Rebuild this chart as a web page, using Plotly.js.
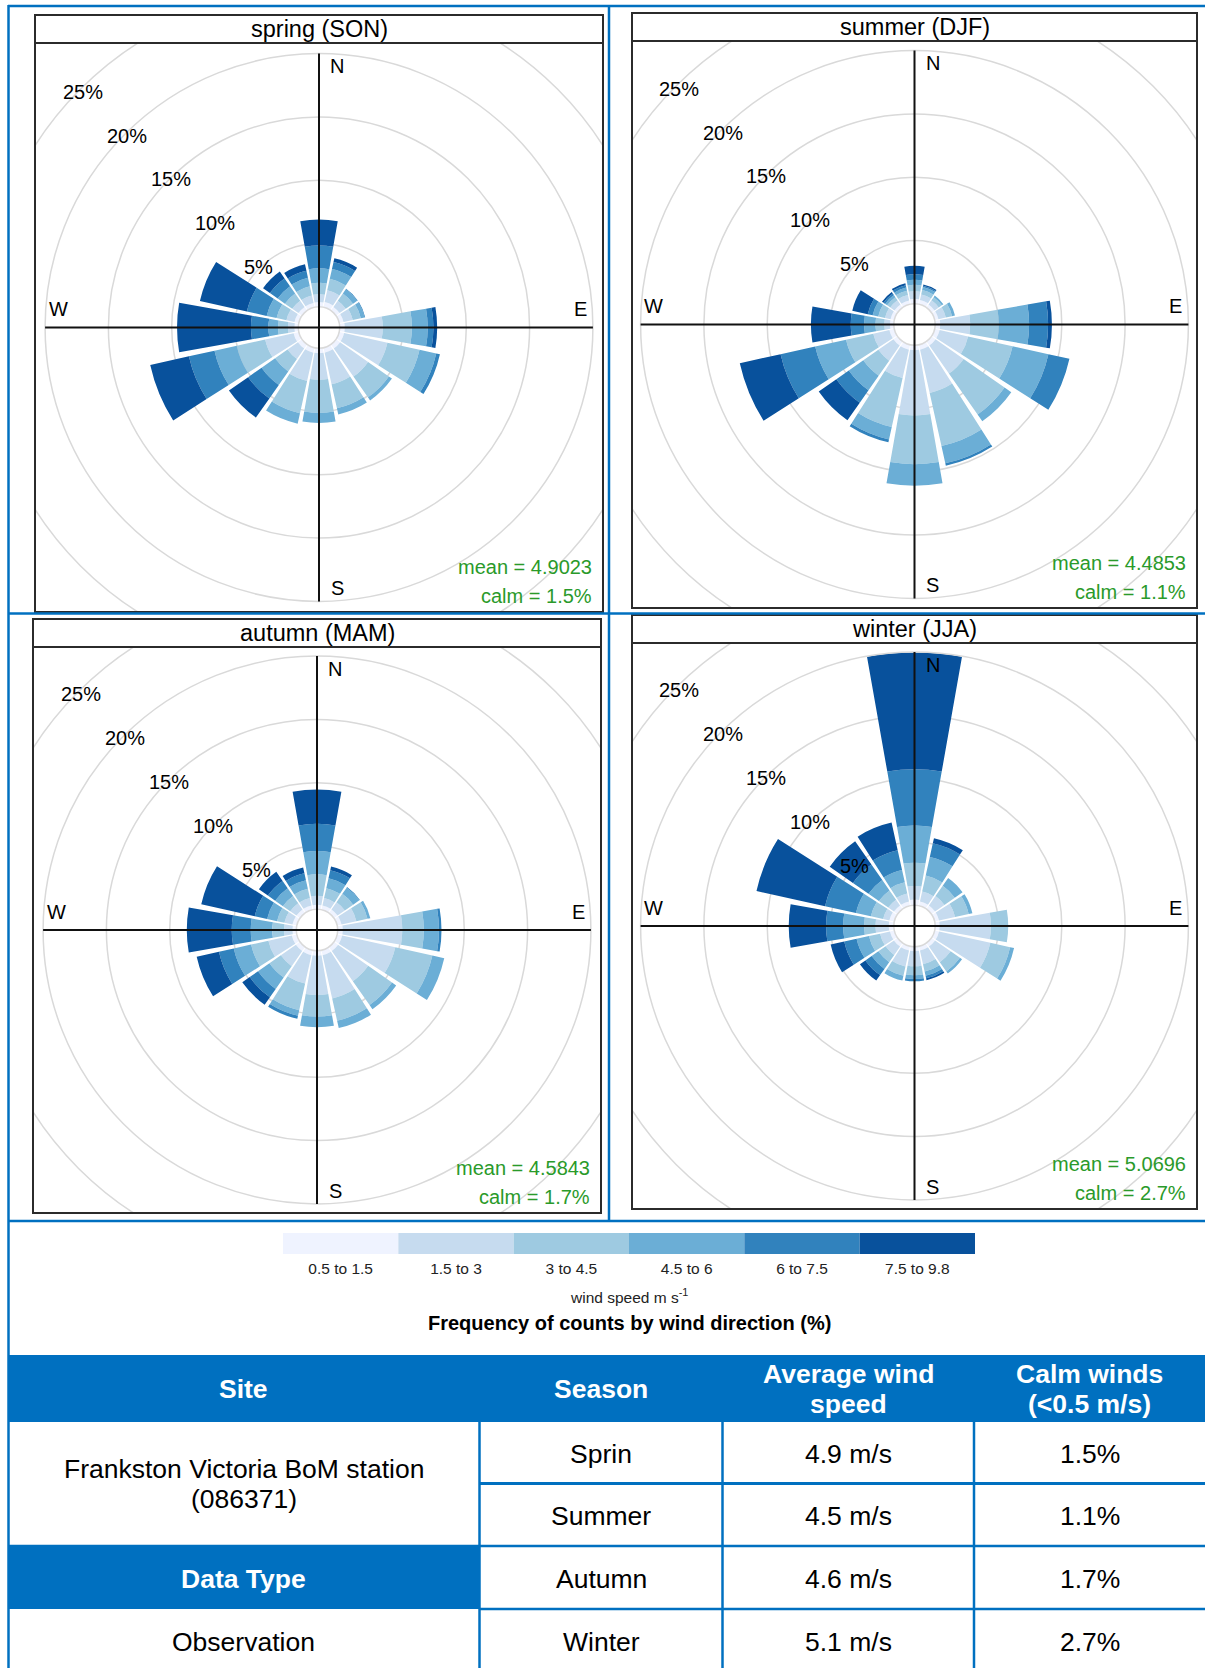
<!DOCTYPE html>
<html><head><meta charset="utf-8">
<script src="https://cdn.plot.ly/plotly-3.0.1.min.js"></script>
<style>html,body{margin:0;padding:0;background:#fff;overflow:hidden}#chart{width:1205px;height:1668px}</style>
</head><body><div id="chart"></div>
<script>
// ---------------- DATA ----------------
const directions = [0,22.5,45,67.5,90,112.5,135,157.5,180,202.5,225,247.5,270,292.5,315,337.5];
const speedBins = ['0.5 to 1.5','1.5 to 3','3 to 4.5','4.5 to 6','6 to 7.5','7.5 to 9.8'];
const binColors = ['#eff3ff','#c6dbef','#9ecae1','#6baed6','#3182bd','#08519c'];
const seasonTitles = ['spring (SON)','summer (DJF)','autumn (MAM)','winter (JJA)'];
const seasonMeans = ['4.9023','4.4853','4.5843','5.0696'];
const seasonCalms = ['1.5%','1.1%','1.7%','2.7%'];
const ringValues = [5,10,15,20,25];
const compass = ['N','E','S','W'];

// frequency (%) per direction (N..NNW, clockwise), columns = speed bins
const spring = [
 [0.37,0.62,0.90,1.15,1.80,2.05],
 [0.42,0.95,0.93,0.80,0.56,0.31],
 [0.35,0.60,0.70,0.40,0.05,0],
 [0.35,0.75,0.65,0.30,0.05,0],
 [0.40,3.00,2.30,1.25,0.45,0.30],
 [0.40,3.50,2.60,1.35,0.30,0],
 [0.40,2.70,2.00,0.30,0,0],
 [0.40,2.55,1.95,0.50,0,0],
 [0.40,2.10,2.60,0.80,0,0],
 [0.40,2.30,2.60,0.85,0,0],
 [0.40,1.00,1.20,1.30,1.30,1.85],
 [0.42,2.30,2.30,1.80,2.07,3.13],
 [0.30,0.52,0.78,0.76,1.38,5.84],
 [0.35,0.65,0.80,0.80,1.60,3.80],
 [0.35,0.60,0.70,0.70,0.75,0.66],
 [0.35,0.60,0.75,0.70,0.55,0.53]
];
const summer = [
 [0.40,0.60,0.50,0.40,0.43,0.67],
 [0.35,0.45,0.35,0.25,0.10,0.10],
 [0.30,0.40,0.30,0.15,0,0],
 [0.30,0.60,0.50,0.24,0,0],
 [0.40,2.37,2.25,2.40,1.50,0.30],
 [0.40,2.30,3.60,2.90,1.70,0],
 [0.40,2.70,3.95,0.65,0,0],
 [0.40,3.50,4.30,1.40,0.20,0],
 [0.40,5.15,3.85,1.70,0,0],
 [0.40,2.30,3.96,1.00,0.24,0],
 [0.40,1.45,1.45,1.40,1.20,1.70],
 [0.40,1.30,2.20,2.50,2.80,3.30],
 [0.30,0.45,0.70,0.90,1.05,3.15],
 [0.30,0.45,0.55,0.45,0.40,1.25],
 [0.30,0.40,0.30,0.20,0.15,0.15],
 [0.30,0.45,0.35,0.25,0.20,0.15]
];
const autumn = [
 [0.35,0.72,1.69,1.84,2.15,2.71],
 [0.35,0.60,0.80,0.80,0.65,0.30],
 [0.35,0.70,0.80,0.60,0.05,0],
 [0.35,1.20,0.90,0.23,0,0],
 [0.40,4.70,1.70,1.20,0.20,0],
 [0.40,4.30,3.00,0.96,0,0],
 [0.40,2.90,2.30,0.40,0,0],
 [0.40,3.50,1.80,0.60,0,0],
 [0.40,3.10,1.70,0.85,0,0],
 [0.40,2.30,2.15,0.45,0.25,0],
 [0.40,1.45,1.10,1.10,0.80,0.72],
 [0.40,1.90,1.40,1.40,1.20,1.80],
 [0.30,0.67,0.93,1.70,1.50,3.55],
 [0.35,0.65,0.60,0.80,1.00,4.33],
 [0.35,0.60,0.70,0.75,0.70,0.87],
 [0.35,0.60,0.75,0.70,0.55,0.47]
];
const winter = [
 [0.46,1.07,1.84,2.93,4.45,9.22],
 [0.35,0.80,1.30,1.50,1.10,0.42],
 [0.35,0.90,1.00,0.75,0,0],
 [0.35,1.30,1.10,0.30,0,0],
 [0.35,4.05,1.37,0,0,0],
 [0.35,4.15,1.60,0.32,0,0],
 [0.35,1.50,0.90,0.20,0,0],
 [0.35,1.10,0.60,0.35,0.20,0.15],
 [0.35,1.20,0.70,0.30,0.18,0],
 [0.35,1.30,0.75,0.38,0,0],
 [0.35,0.80,0.70,0.65,0.60,0.53],
 [0.35,0.80,0.90,1.00,1.00,1.10],
 [0.40,1.05,0.90,1.65,1.35,2.95],
 [0.40,0.50,1.00,1.20,2.50,5.55],
 [0.35,0.55,0.90,1.00,1.50,2.24],
 [0.35,0.65,0.90,1.00,1.60,2.23]
];
const seasonData = [spring, summer, autumn, winter];

// table
const tableHeaders = ['Site','Season','Average wind<br>speed','Calm winds<br>(<0.5 m/s)'];
const siteName = 'Frankston Victoria BoM station<br>(086371)';
const dataTypeLabel = 'Data Type';
const dataTypeValue = 'Observation';
const tableSeasons = ['Sprin','Summer','Autumn','Winter'];
const tableAvgSpeed = ['4.9 m/s','4.5 m/s','4.6 m/s','5.1 m/s'];
const tableCalm = ['1.5%','1.1%','1.7%','2.7%'];

// ---------------- LAYOUT / STYLE ----------------
const W = 1205, H = 1668;
const FONT = 'Liberation Sans, Arial, Helvetica, sans-serif';
const BLUE = '#0070C0';
const GRID = '#d9d9d9';
const GREEN = '#2a9a2a';
const fx = x => x / W, fy = y => 1 - y / H;
const panels = [
  {x0:35,  x1:603,  y0:15,  tb:43,  y1:612},
  {x0:632, x1:1197, y0:13,  tb:41,  y1:608},
  {x0:33,  x1:601,  y0:619, tb:647, y1:1213},
  {x0:632, x1:1197, y0:615, tb:643, y1:1209}
];
const OFF = 20.7, K = 12.66, RMAX = 20, BARW = 20;
const ringR = v => OFF + v * K;

const traces = [];
const layout = {
  width: W, height: H, margin: {l:0, r:0, t:0, b:0},
  paper_bgcolor: '#fff', plot_bgcolor: 'rgba(0,0,0,0)',
  showlegend: false, font: {family: FONT, color: '#000'},
  shapes: [], annotations: [], dragmode: false
};

function pline(x0,y0,x1,y1,color,width){
  layout.shapes.push({type:'line', xref:'paper', yref:'paper', x0:fx(x0), y0:fy(y0), x1:fx(x1), y1:fy(y1),
    line:{color:color, width:width}, layer:'above'});
}
function prect(x0,y0,x1,y1,fill){
  layout.shapes.push({type:'rect', xref:'paper', yref:'paper', x0:fx(x0), y0:fy(y0), x1:fx(x1), y1:fy(y1),
    fillcolor:fill, line:{width:0}, layer:'below'});
}
function ptext(x,y,text,size,color,opts){
  layout.annotations.push(Object.assign({xref:'paper', yref:'paper', x:fx(x), y:fy(y), text:text, showarrow:false,
    xanchor:'center', yanchor:'middle', font:{family:FONT, size:size, color:color}}, opts||{}));
}

panels.forEach((p, i) => {
  const n = i + 1;
  const pk = n === 1 ? 'polar' : 'polar' + n;
  const xk = n === 1 ? 'xaxis' : 'xaxis' + n, yk = n === 1 ? 'yaxis' : 'yaxis' + n;
  const xid = n === 1 ? 'x' : 'x' + n, yid = n === 1 ? 'y' : 'y' + n;
  const cx = (p.x0 + p.x1) / 2, cy = (p.tb + p.y1) / 2;
  const R = ringR(RMAX);

  layout[pk] = {
    domain: {x:[fx(cx - R), fx(cx + R)], y:[fy(cy + R), fy(cy - R)]},
    hole: OFF / R, bgcolor: 'rgba(0,0,0,0)', barmode: 'stack',
    radialaxis: {range:[0, RMAX], tickvals: ringValues.filter(v => v < RMAX), showticklabels:false, ticks:'',
      showline:false, gridcolor:GRID, gridwidth:1.5},
    angularaxis: {rotation:90, direction:'clockwise', showgrid:false, showticklabels:false, ticks:'',
      showline:true, linecolor:GRID, linewidth:1.5}
  };
  const rows = seasonData[i];
  speedBins.forEach((lab, b) => {
    traces.push({type:'barpolar', subplot:pk, theta:directions, r:rows.map(row => row[b]), width:BARW,
      name:lab, marker:{color:binColors[b], line:{width:0}}, hoverinfo:'skip', showlegend:false});
  });

  // pixel-unit cartesian frame for clipping rings, cross lines and labels
  layout[xk] = {domain:[fx(p.x0), fx(p.x1)], range:[p.x0 - cx, p.x1 - cx], anchor:yid, visible:false, fixedrange:true};
  layout[yk] = {domain:[fy(p.y1), fy(p.tb)], range:[cy - p.y1, cy - p.tb], anchor:xid, visible:false, fixedrange:true};
  traces.push({type:'scatter', mode:'markers', x:[], y:[], xaxis:xid, yaxis:yid, hoverinfo:'skip', showlegend:false});

  // outer rings beyond the polar edge (clipped to the panel)
  ringValues.filter(v => v > RMAX).forEach(v => {
    const r = ringR(v);
    layout.shapes.push({type:'circle', xref:xid, yref:yid, x0:-r, x1:r, y0:-r, y1:r,
      line:{color:GRID, width:1.5}, layer:'below'});
  });
  // compass cross
  layout.shapes.push({type:'line', xref:xid, yref:yid, x0:-R, x1:R, y0:0, y1:0, line:{color:'#111', width:2}, layer:'above'});
  layout.shapes.push({type:'line', xref:xid, yref:yid, x0:0, x1:0, y0:-R, y1:R, line:{color:'#111', width:2}, layer:'above'});
  // compass letters
  const LR = 261, LO = 18;
  const pos = {N:[LO, LR], E:[LR, LO], S:[LO, -LR], W:[-LR, LO]};
  compass.forEach(c => {
    layout.annotations.push({xref:xid, yref:yid, x:pos[c][0], y:pos[c][1], text:c, showarrow:false,
      xanchor:'center', yanchor:'middle', font:{family:FONT, size:20, color:'#000'}});
  });
  // ring labels
  ringValues.forEach(v => {
    const rl = ringR(v) * 0.98 + 3;
    layout.annotations.push({xref:xid, yref:yid, x:-rl * Math.SQRT1_2, y:rl * Math.SQRT1_2, text:v + '%', showarrow:false,
      xanchor:'center', yanchor:'middle', font:{family:FONT, size:20, color:'#000'}});
  });
  // frame and title strip
  layout.shapes.push({type:'rect', xref:'paper', yref:'paper', x0:fx(p.x0), x1:fx(p.x1), y0:fy(p.y1), y1:fy(p.y0),
    line:{color:'#2b2b2b', width:2}, fillcolor:'rgba(0,0,0,0)', layer:'above'});
  pline(p.x0, p.tb, p.x1, p.tb, '#2b2b2b', 2);
  ptext((p.x0 + p.x1) / 2, (p.y0 + p.tb) / 2, seasonTitles[i], 23.5, '#000');
  ptext(p.x1 - 9, p.y1 - 45, 'mean = ' + seasonMeans[i], 20, GREEN, {xanchor:'right'});
  ptext(p.x1 - 9, p.y1 - 16, 'calm = ' + seasonCalms[i], 20, GREEN, {xanchor:'right'});
});

// ---------------- speed legend ----------------
const LEG = {x0:283, x1:975, y0:1233, y1:1254};
traces.push({type:'bar', x:speedBins, y:speedBins.map(() => 1), width:1, xaxis:'x5', yaxis:'y5',
  marker:{color:binColors, line:{width:0}}, hoverinfo:'skip', showlegend:false});
layout.xaxis5 = {domain:[fx(LEG.x0), fx(LEG.x1)], anchor:'y5', type:'category', range:[-0.5, 5.5],
  showgrid:false, zeroline:false, showline:false, ticks:'', ticklabelstandoff:3,
  tickfont:{family:FONT, size:15.5, color:'#222'}, fixedrange:true};
layout.yaxis5 = {domain:[fy(LEG.y1), fy(LEG.y0)], anchor:'x5', range:[0, 1], visible:false, fixedrange:true};
ptext((LEG.x0 + LEG.x1) / 2, 1296, 'wind speed m s<sup>-1</sup>', 15.5, '#222');
ptext((LEG.x0 + LEG.x1) / 2, 1323, '<b>Frequency of counts by wind direction (%)</b>', 20, '#000');

// ---------------- document borders ----------------
pline(8, 6, 1205, 6, BLUE, 2.5);
pline(8.5, 5, 8.5, 1668, BLUE, 2.5);
pline(609, 5, 609, 1221, BLUE, 2.5);
pline(8, 613.5, 1205, 613.5, BLUE, 2.5);
pline(8, 1221, 1205, 1221, BLUE, 2.5);

// ---------------- table ----------------
const colEdges = [8, 479.5, 722.5, 974, 1205];
const rowEdges = [1422, 1483.5, 1546, 1609, 1672];
const colC = k => (colEdges[k] + colEdges[k + 1]) / 2;
const rowC = k => (rowEdges[k] + rowEdges[k + 1]) / 2 + 1;
prect(8, 1355, 1205, 1422, BLUE);
prect(8, 1546, 479.5, 1609, BLUE);
[1, 2, 3].forEach(k => pline(colEdges[k], 1422, colEdges[k], 1668, BLUE, 2.5));
pline(479.5, 1483.5, 1205, 1483.5, BLUE, 3);
pline(8, 1546, 1205, 1546, BLUE, 2.5);
pline(479.5, 1609, 1205, 1609, BLUE, 2.5);

const esc = s => s.replace(/</g, '&lt;').replace(/>/g, '&gt;');
function multiText(x, yc, text, size, color, bold){
  const lines = text.split('<br>');
  const LS = 30;
  lines.forEach((ln, j) => {
    const y = yc + (j - (lines.length - 1) / 2) * LS;
    ptext(x, y, bold ? '<b>' + esc(ln) + '</b>' : esc(ln), size, color);
  });
}
tableHeaders.forEach((h, k) => multiText(colC(k), 1389, h, 26.5, '#fff', true));
multiText(colC(0), (rowEdges[0] + rowEdges[2]) / 2, siteName, 26.5, '#000', false);
multiText(colC(0), rowC(2), dataTypeLabel, 26.5, '#fff', true);
multiText(colC(0), rowC(3), dataTypeValue, 26.5, '#000', false);
tableSeasons.forEach((s, r) => {
  multiText(colC(1), rowC(r), s, 26.5, '#000', false);
  multiText(colC(2), rowC(r), tableAvgSpeed[r], 26.5, '#000', false);
  multiText(colC(3), rowC(r), tableCalm[r], 26.5, '#000', false);
});

Plotly.newPlot('chart', traces, layout, {staticPlot:true, displayModeBar:false});
</script></body></html>
